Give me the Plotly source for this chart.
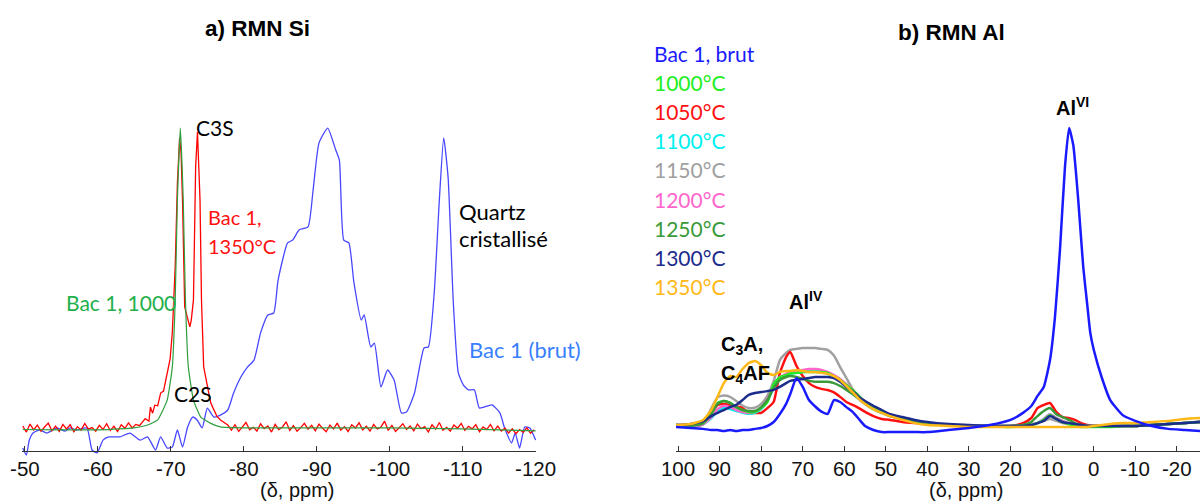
import plotly.graph_objects as go

# ---------------- a) RMN Si data (ppm, intensity a.u.) ----------------
SI_BRUT_X = [-49.7, -50.2, -50.6, -51.1, -52.0, -53.0, -54.4, -55.5, -56.2, -57.0, -58.5, -59.2, -59.9,
             -60.7, -61.5, -63.0, -64.4, -65.8, -66.8, -67.9, -68.6, -69.5, -70.2, -70.9, -71.6, -72.3,
             -73.0, -73.6, -74.3, -75.0, -75.9, -76.8, -77.8, -78.6, -79.6, -80.5, -81.4, -82.3, -83.3,
             -84.1, -84.7, -86.0, -86.7, -87.6, -88.8, -89.5, -90.3, -91.5, -92.6, -93.1, -93.7, -94.4,
             -95.1, -96.1, -96.5, -97.4, -97.9, -98.8, -99.7, -100.6, -101.6, -102.3, -103.4, -104.7,
             -105.3, -106.1, -106.8, -107.4, -108.0, -108.7, -109.4, -110.1, -110.8, -111.6, -112.3,
             -114.0, -115.1, -115.7, -116.7, -117.2, -117.8, -118.5, -119.2, -120.0]
SI_BRUT_Y = [0.6, -1.6, 3.1, 5.3, 6.25, 5.3, 6.9, 5.9, 6.9, 6.25, 6.9, 0.0, -0.9,
             3.1, 4.1, 4.1, 5.3, 3.1, 4.1, 0.0, 4.1, 0.6, 0.9, 6.25, 0.9, 7.2,
             10.3, 9.4, 6.9, 13.1, 10.3, 10.9, 12.5, 17.8, 22.8, 25.9, 28.1, 36.6, 42.2,
             42.8, 53.1, 64.7, 65.6, 68.8, 69.7, 81.25, 95.9, 100.6, 93.75, 90.6, 65.6, 64.7,
             52.2, 40.6, 42.2, 32.2, 33.4, 19.7, 25.0, 21.9, 11.6, 11.9, 17.8, 31.9,
             32.2, 49.1, 78.1, 97.5, 85.3, 46.9, 24.1, 20.3, 18.8, 18.8, 13.1,
             14.1, 11.6, 7.2, 2.2, 5.3, 0.6, 7.2, 6.9, 3.1]

SI_1000_X = [-49.7, -55.0, -60.0, -63.0, -64.9, -66.8, -68.2, -69.5, -70.2, -70.6, -70.9, -71.3, -71.7,
             -72.0, -72.4, -73.1, -74.1, -75.4, -76.8, -80.0, -90.0, -100.0, -110.0, -115.0, -120.0]
SI_1000_Y = [6.4, 6.3, 6.3, 6.6, 6.9, 7.8, 9.4, 15.6, 25.9, 46.9, 78.1, 100.6, 78.1,
             46.9, 25.9, 15.6, 10.3, 8.4, 7.2, 6.9, 6.9, 6.9, 6.6, 6.3, 6.0]

SI_1350_X_LEFT = [-49.7, -50.2, -50.7, -51.2, -51.7, -52.2, -52.7, -53.2, -53.7, -54.2, -54.7, -55.2,
                  -55.7, -56.2, -56.7, -57.2, -57.7, -58.2, -58.7, -59.2, -59.7, -60.2, -60.7, -61.2,
                  -61.7, -62.2, -62.7, -63.2, -63.7, -64.2, -64.7, -65.2, -65.7]
SI_1350_Y_LEFT = [7.5, 5.6, 8.1, 6.3, 7.8, 5.9, 7.2, 8.4, 6.0, 7.5, 5.8, 8.0, 6.6, 7.9, 5.7, 7.3, 6.2,
                  8.3, 6.5, 7.0, 5.9, 7.7, 6.4, 8.2, 6.1, 7.4, 5.8, 7.9, 6.8, 8.5, 6.9, 8.0, 7.6]
SI_1350_X_PEAK = [-66.0, -66.5, -67.0, -67.2, -67.5, -67.8, -68.2, -68.6, -69.0, -69.5, -69.9, -70.2,
                  -70.6, -70.9, -71.2, -71.4, -71.6, -71.9, -72.3, -72.6, -72.8, -73.1, -73.4, -73.65,
                  -74.0, -74.2, -74.5, -74.8, -75.2, -75.5, -75.9, -76.3, -76.8, -77.3, -77.8]
SI_1350_Y_PEAK = [8.4, 9.8, 9.0, 13.4, 11.5, 14.0, 13.8, 17.8, 18.4, 24.1, 28.5, 36.6,
                  57.5, 83.4, 97.5, 93.0, 78.1, 44.7, 41.5, 38.5, 40.6, 46.9, 88.4, 99.4,
                  78.1, 46.9, 26.0, 22.0, 17.8, 14.5, 12.5, 10.6, 9.4, 8.5, 7.8]
SI_1350_X_RIGHT = [-78.3, -78.8, -79.3, -79.8, -80.3, -80.8, -81.3, -81.8, -82.3, -82.8, -83.3, -83.8,
                   -84.3, -84.8, -85.3, -85.8, -86.3, -86.8, -87.3, -87.8, -88.3, -88.8, -89.3, -89.8,
                   -90.3, -90.8, -91.3, -91.8, -92.3, -92.8, -93.3, -93.8, -94.3, -94.8, -95.3, -95.8,
                   -96.3, -96.8, -97.3, -97.8, -98.3, -98.8, -99.3, -99.8, -100.3, -100.8, -101.3,
                   -101.8, -102.3, -102.8, -103.3, -103.8, -104.3, -104.8, -105.3, -105.8, -106.3,
                   -106.8, -107.3, -107.8, -108.3, -108.8, -109.3, -109.8, -110.3, -110.8, -111.3,
                   -111.8, -112.3, -112.8, -113.3, -113.8, -114.3, -114.8, -115.3, -115.8, -116.3,
                   -116.8, -117.3, -117.8, -118.3, -118.8, -119.3, -119.8]
SI_1350_Y_RIGHT = [6.2, 7.9, 5.8, 7.4, 8.6, 6.3, 7.1, 5.9, 8.2, 6.7,
                   7.5, 5.6, 8.0, 6.4, 7.2, 8.8, 6.1, 7.6, 5.9, 7.0,
                   8.3, 6.5, 7.7, 6.0, 8.1, 6.8, 5.7, 7.8, 6.6, 8.4,
                   6.2, 7.3, 5.8, 7.9, 6.9, 8.5, 6.3, 7.4, 5.9, 8.0,
                   6.6, 7.2, 9.0, 6.1, 7.7, 5.8, 7.0, 8.2, 6.4, 7.5,
                   6.0, 8.1, 6.7, 7.3, 5.6, 7.9, 6.5, 8.6, 6.2, 7.1,
                   5.9, 7.8, 6.8, 8.3, 6.1, 7.4, 6.6, 7.9, 5.7, 7.2,
                   6.4, 8.0, 6.0, 7.5, 5.9, 6.8, 5.3, 6.6, 5.1, 6.4,
                   5.5, 6.9, 5.2, 6.3]

SI_TICKS = [-50, -60, -70, -80, -90, -100, -110, -120]

# ---------------- b) RMN Al data (ppm, intensity a.u.) ----------------
AL_X = [100.5, 97, 94, 92, 90.5, 89, 87.5, 86, 84.5, 83, 81.5, 80, 78.5, 77, 75.5, 74, 73, 71.5, 70,
        68.5, 67, 65.5, 64, 62.5, 61, 59.5, 58, 56.5, 55, 53, 51, 49, 46, 43, 40, 35, 30, 25, 20, 17,
        15, 13.5, 12, 10.5, 9, 7.5, 6, 4.5, 3, 1.5, 0, -2, -4, -7, -10, -14, -18, -22, -25.6]

AL_BRUT_X = [100.5, 97, 94, 92, 90.5, 89, 87.5, 86, 84.5, 83, 81.5, 80, 78.5, 77, 75.5, 74, 73, 71.5, 70,
             68.5, 67, 65.5, 64, 62.5, 61, 59.5, 58, 56.5, 55, 53, 51, 49, 46, 43, 40, 35, 30, 25, 20, 17,
             15, 13.5, 12, 10.5, 9.3, 8.1, 6.9, 5.9, 4.9, 3.7, 2.5, 1.5, 0.8, 0, -2, -4, -7, -10, -14,
             -18, -22, -25.6]
AL_BRUT = [7.2, 6.9, 6.6, 6.25, 6.25, 5.9, 6.25, 5.9, 6.25, 6.25, 6.6, 6.9, 7.5, 8.75, 11.25, 14.4, 17.5,
           22.5, 19.7, 15.6, 13.6, 12.0, 11.3, 15.6, 15.0, 13.4, 11.9, 9.7, 7.5, 6.25, 5.6, 5.6, 5.6,
           5.6, 5.6, 6.25, 6.9, 7.8, 9.4, 11.6, 13.75, 16.9, 19.7, 28.1, 41.6, 62.5, 88.4, 100.6, 95.3,
           78.1, 57.2, 45.0, 36.6, 31.5, 22.5, 15.6, 10.9, 9.1, 7.5, 6.6, 6.25, 5.9]
AL_1000 = [7.8, 7.5, 8.4, 11.25, 14.7, 15.3, 14.7, 13.4, 12.5, 11.9, 11.9, 13.1, 15.0, 20.6, 22.8, 23.4,
           24.0, 24.1, 24.4, 24.4, 24.4, 24.4, 24.1, 23.0, 21.9, 20.3, 18.8, 16.9, 15.0, 13.1, 11.9,
           10.9, 9.7, 8.75, 8.1, 7.8, 7.5, 7.5, 7.2, 7.5, 7.8, 8.4, 9.4, 10.9, 9.7, 8.75, 8.1, 7.5, 7.2,
           7.2, 7.2, 7.2, 7.2, 7.5, 7.5, 7.8, 8.1, 8.4, 8.75]
AL_1050 = [7.5, 7.2, 8.1, 11.5, 14.1, 14.4, 14.1, 13.6, 13.1, 11.6, 11.6, 11.6, 13.1, 15.0, 24.1, 29.0,
           30.6, 26.25, 23.1, 20.9, 19.7, 19.1, 18.75, 18.0, 16.6, 15.0, 14.1, 13.1, 11.9, 10.6, 9.7,
           9.4, 8.75, 8.4, 8.1, 7.8, 7.5, 7.5, 7.5, 8.4, 10.0, 13.1, 14.1, 14.7, 11.9, 10.3, 10.0, 9.4,
           8.4, 7.8, 7.5, 7.5, 7.5, 7.5, 7.5, 7.8, 8.1, 8.4, 8.75]
AL_1100 = [7.8, 7.5, 8.1, 10.0, 12.2, 13.1, 12.8, 12.2, 11.6, 11.3, 11.6, 12.8, 15.3, 19.4, 22.2, 23.1,
           23.8, 24.1, 24.4, 24.7, 24.7, 24.4, 23.8, 22.8, 21.6, 20.0, 18.4, 16.6, 14.7, 13.1, 11.9,
           10.9, 9.7, 8.75, 8.1, 7.8, 7.5, 7.5, 7.5, 7.5, 7.8, 8.4, 9.7, 11.2, 10.0, 9.1, 8.4, 7.8, 7.5,
           7.5, 7.5, 7.5, 7.5, 7.5, 7.5, 7.8, 8.1, 8.4, 8.75]
AL_1150 = [7.8, 7.8, 8.4, 13.0, 16.5, 17.0, 16.6, 15.3, 13.9, 13.1, 13.2, 14.4, 17.0, 21.5, 28.1, 30.3,
           31.25, 31.6, 31.9, 31.9, 31.9, 31.6, 31.3, 29.5, 25.9, 22.5, 19.0, 16.0, 14.5, 13.0, 12.0,
           10.6, 9.7, 9.1, 8.4, 7.8, 7.5, 7.5, 7.5, 7.8, 8.1, 8.4, 9.1, 9.7, 9.1, 8.4, 8.1, 7.8, 7.8,
           7.5, 7.5, 7.5, 7.5, 7.5, 7.8, 7.8, 8.1, 8.4, 9.1]
AL_1200 = [7.8, 7.5, 8.1, 10.3, 12.8, 13.8, 13.4, 12.5, 11.9, 11.6, 11.9, 13.1, 15.9, 20.0, 22.8, 23.8,
           24.4, 24.7, 25.0, 25.3, 25.3, 25.0, 24.4, 23.4, 22.2, 20.6, 18.8, 16.9, 15.0, 13.4, 12.2,
           11.2, 10.0, 9.1, 8.4, 7.8, 7.5, 7.5, 7.5, 7.5, 7.8, 8.4, 9.7, 11.2, 10.0, 9.1, 8.4, 7.8, 7.5,
           7.5, 7.5, 7.5, 7.5, 7.5, 7.5, 7.8, 8.1, 8.4, 8.75]
AL_1250 = [7.8, 7.5, 8.4, 11.6, 14.4, 15.3, 14.7, 13.4, 12.5, 12.2, 12.2, 13.4, 15.6, 19.4, 21.9, 22.8,
           23.1, 22.8, 22.2, 21.6, 21.3, 21.3, 21.3, 20.9, 20.0, 18.8, 17.5, 16.0, 14.4, 12.8, 11.6,
           10.6, 9.7, 8.75, 8.1, 7.8, 7.5, 7.5, 7.5, 7.8, 8.75, 10.6, 12.2, 13.1, 11.2, 10.3, 9.4, 8.4,
           7.8, 7.5, 7.5, 7.5, 7.5, 7.5, 7.5, 7.8, 8.1, 8.4, 8.75]
AL_1300 = [7.8, 8.1, 9.0, 10.6, 11.6, 12.5, 13.4, 14.1, 15.6, 17.2, 17.8, 18.1, 18.4, 18.8, 19.7, 20.9,
           21.6, 21.9, 22.2, 22.5, 22.8, 22.8, 22.8, 22.5, 21.3, 19.7, 18.4, 16.6, 15.3, 13.8, 12.5,
           11.2, 10.3, 9.4, 8.75, 8.1, 7.8, 7.5, 7.5, 7.5, 7.8, 8.4, 9.1, 10.6, 9.7, 8.75, 8.4, 8.1,
           7.8, 7.5, 7.5, 7.5, 7.5, 7.5, 7.5, 7.8, 8.1, 8.4, 8.75]
AL_1350 = [7.8, 8.1, 9.4, 12.5, 16.6, 20.9, 23.1, 22.8, 25.3, 27.2, 27.8, 26.5, 24.1, 23.4, 24.4, 24.7,
           24.7, 25.0, 24.7, 24.4, 24.4, 24.1, 23.8, 23.1, 21.9, 20.0, 18.1, 16.0, 14.4, 12.8, 11.6,
           10.6, 9.4, 8.4, 7.8, 7.5, 7.2, 7.2, 7.2, 7.2, 7.2, 7.2, 7.2, 7.2, 7.2, 7.2, 7.2, 7.2, 7.2,
           7.2, 7.5, 7.8, 8.1, 8.4, 8.4, 8.75, 9.1, 9.7, 10.0]

AL_TICKS = [100, 90, 80, 70, 60, 50, 40, 30, 20, 10, 0, -10, -20]
AL_LABELS = ["Bac 1, brut", "1000°C", "1050°C", "1100°C", "1150°C", "1200°C", "1250°C", "1300°C", "1350°C"]
AL_COLORS = ["#1a1aff", "#22ee22", "#ff1010", "#00f0f0", "#a0a0a0", "#ff66cc", "#3a9a3a", "#1c2c8c", "#ffb818"]

W, H = 1200, 501


def px(x, y):
    return x / W, 1 - y / H


fig = go.Figure()

# Left panel traces
fig.add_trace(go.Scatter(x=SI_BRUT_X, y=SI_BRUT_Y, mode="lines",
                         line=dict(color="#4747ff", width=1.3, shape="spline", smoothing=0.5),
                         xaxis="x", yaxis="y"))
fig.add_trace(go.Scatter(x=SI_1350_X_LEFT + SI_1350_X_PEAK + SI_1350_X_RIGHT,
                         y=SI_1350_Y_LEFT + SI_1350_Y_PEAK + SI_1350_Y_RIGHT, mode="lines",
                         line=dict(color="#ff0000", width=1.3), xaxis="x", yaxis="y"))
fig.add_trace(go.Scatter(x=SI_1000_X, y=SI_1000_Y, mode="lines",
                         line=dict(color="#2e9e3e", width=1.2, shape="spline", smoothing=0.4),
                         xaxis="x", yaxis="y"))

# Right panel traces (draw order)
al_series = [
    (AL_X, AL_1150, AL_COLORS[4]),
    (AL_X, AL_1050, AL_COLORS[2]),
    (AL_X, AL_1100, AL_COLORS[3]),
    (AL_X, AL_1200, AL_COLORS[5]),
    (AL_X, AL_1000, AL_COLORS[1]),
    (AL_X, AL_1250, AL_COLORS[6]),
    (AL_X, AL_1300, AL_COLORS[7]),
    (AL_X, AL_1350, AL_COLORS[8]),
    (AL_BRUT_X, AL_BRUT, AL_COLORS[0]),
]
for xs, vals, col in al_series:
    fig.add_trace(go.Scatter(x=xs, y=vals, mode="lines",
                             line=dict(color=col, width=2.5, shape="spline", smoothing=0.5),
                             xaxis="x2", yaxis="y2"))

y_dom = [(H - 456) / H, (H - 120) / H]
y_rng = [-1.875, 103.125]
axis_pos = (H - 450.5) / H
tickfont = dict(family="Liberation Sans, Arial, sans-serif", size=20.5, color="#111111")

fig.update_layout(
    width=W, height=H, margin=dict(l=0, r=0, t=0, b=0, autoexpand=False),
    paper_bgcolor="white", plot_bgcolor="white", showlegend=False,
    xaxis=dict(domain=[22 / W, 536 / W], range=[-49.6, -120.05], anchor="free", position=axis_pos,
               showline=True, linecolor="#333333", linewidth=1, ticks="inside", ticklen=5,
               tickcolor="#333333", tickvals=SI_TICKS, ticktext=[str(v) for v in SI_TICKS],
               showgrid=False, zeroline=False, tickfont=tickfont, ticklabelstandoff=0),
    yaxis=dict(domain=y_dom, range=y_rng, visible=False),
    xaxis2=dict(domain=[676 / W, 1.0], range=[100.5, -25.6], anchor="free", position=axis_pos,
                showline=True, linecolor="#333333", linewidth=1, ticks="inside", ticklen=5,
                tickcolor="#333333", tickvals=AL_TICKS, ticktext=[str(v) for v in AL_TICKS],
                showgrid=False, zeroline=False, tickfont=tickfont, ticklabelstandoff=0),
    yaxis2=dict(domain=y_dom, range=y_rng, visible=False, anchor="x2"),
)

ann = []


def add_text(x, y, text, color="#000000", size=21, family="Lato, sans-serif", xanchor="left"):
    ax, ay = px(x, y)
    ann.append(dict(x=ax, y=ay, xref="paper", yref="paper", text=text, showarrow=False,
                    xanchor=xanchor, yanchor="middle", font=dict(family=family, size=size, color=color)))


bold = "Liberation Sans, Arial, sans-serif"
add_text(257, 28, "<b>a) RMN Si</b>", size=22.5, family=bold, xanchor="center")
add_text(951, 33, "<b>b) RMN Al</b>", size=22.5, family=bold, xanchor="center")
add_text(297, 490, "(δ, ppm)", size=20, family=bold, color="#111111", xanchor="center")
add_text(966, 490, "(δ, ppm)", size=20, family=bold, color="#111111", xanchor="center")

# left annotations
add_text(194, 128, "C3S")
add_text(206, 217, "Bac 1,", color="#ff1010", size=20)
add_text(206, 246, "1350°C", color="#ff1010", size=20)
add_text(64, 302, "Bac 1, 1000", color="#22b04b")
add_text(172, 393, "C2S")
add_text(457, 211, "Quartz", size=22)
add_text(457, 239, "cristallisé", size=22)
add_text(467, 349, "Bac 1 (brut)", color="#3a7fff", size=22)

# right legend-like labels
for i, (lab, col) in enumerate(zip(AL_LABELS, AL_COLORS)):
    add_text(652, 53 + i * 29.2, lab, color=col, size=21)

add_text(787, 300, "<b>Al<sup>IV</sup></b>", family=bold, size=20)
add_text(1054, 106, "<b>Al<sup>VI</sup></b>", family=bold, size=20)
add_text(719, 345, "<b>C<sub>3</sub>A,</b>", family=bold, size=20)
add_text(719, 374, "<b>C<sub>4</sub>AF</b>", family=bold, size=20)

fig.update_layout(annotations=ann)
fig.write_html("out.html", config={"displayModeBar": False},
               post_script="document.body.style.margin='0';")
